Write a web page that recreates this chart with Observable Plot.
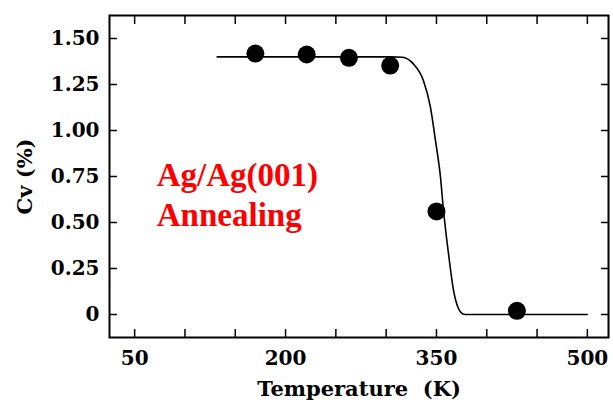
<!DOCTYPE html>
<html><head><meta charset="utf-8">
<script src="https://cdn.jsdelivr.net/npm/d3@7"></script>
<script src="https://cdn.jsdelivr.net/npm/@observablehq/plot@0.6"></script>
<style>body{margin:0;background:#fff}</style>
</head><body><div id="chart"></div>
<script>
// measured points
const dotTemperature = [170, 221, 263, 304, 350, 430];
const dotCv = [1.418, 1.413, 1.395, 1.353, 0.56, 0.02];
// fitted curve
const curveTemperature = [132, 285, 305, 316, 327, 337, 344, 349, 354, 357, 362, 367, 372, 375, 379, 500];
const curveCv = [1.40, 1.40, 1.40, 1.398, 1.362, 1.272, 1.127, 0.946, 0.746, 0.565, 0.329, 0.130, 0.031, 0.008, 0.0, 0.0];
// ticks
const xTickValues = [50, 200, 350, 500];
const xTickLabels = ["50", "200", "350", "500"];
const xMinorTicks = [50, 100, 150, 200, 250, 300, 350, 400, 450, 500];
const yTickValues = [0, 0.25, 0.5, 0.75, 1.0, 1.25, 1.5];
const yTickLabels = ["0", "0.25", "0.50", "0.75", "1.00", "1.25", "1.50"];
const annotationLines = ["Ag/Ag(001)", "Annealing"];

const dots = dotTemperature.map((t, i) => ({t, v: dotCv[i]}));
const curve = curveTemperature.map((t, i) => ({t, v: curveCv[i]}));
const xFmt = new Map(xTickValues.map((v, i) => [v, xTickLabels[i]]));
const yFmt = new Map(yTickValues.map((v, i) => [v, yTickLabels[i]]));

const chart = Plot.plot({
  width: 613, height: 406,
  marginLeft: 109, marginRight: 5, marginTop: 15, marginBottom: 69,
  style: {fontFamily: "DejaVu Serif", fontSize: "20px", fontWeight: "bold", background: "white", color: "black"},
  x: {domain: [25, 521]},
  y: {domain: [-0.125, 1.625]},
  marks: [
    Plot.axisX(xMinorTicks, {anchor: "bottom", tickSize: -8, strokeWidth: 1.5, tickFormat: () => "", label: null}),
    Plot.axisX(xMinorTicks, {anchor: "top", tickSize: -8, strokeWidth: 1.5, tickFormat: () => "", label: null}),
    Plot.axisX(xTickValues, {anchor: "bottom", tickSize: 0, tickPadding: 13, tickFormat: d => xFmt.get(d), label: null}),
    Plot.axisX([], {anchor: "bottom", tickSize: 0, fontSize: 21,
      label: "Temperature  (K)", labelAnchor: "center", labelArrow: "none", labelOffset: 58}),
    Plot.axisY(yTickValues, {anchor: "left", tickSize: -8, strokeWidth: 1.5, tickFormat: () => "", label: null}),
    Plot.axisY(yTickValues, {anchor: "right", tickSize: -8, strokeWidth: 1.5, tickFormat: () => "", label: null}),
    Plot.axisY(yTickValues, {anchor: "left", tickSize: 0, tickPadding: 10, tickFormat: d => yFmt.get(d), label: null}),
    Plot.axisY([], {anchor: "left", tickSize: 0, fontSize: 21,
      label: "Cv (%)", labelAnchor: "center", labelArrow: "none", labelOffset: 92}),
    Plot.frame({stroke: "black", strokeWidth: 2}),
    Plot.line(curve, {x: "t", y: "v", curve: "monotone-x", stroke: "black", strokeWidth: 1.6}),
    Plot.dot(dots, {x: "t", y: "v", r: 9, fill: "black", stroke: "none"}),
    Plot.text([annotationLines[0]], {x: 72, y: 0.757, text: d => d, textAnchor: "start", fill: "#ff0000",
      fontFamily: "Liberation Serif", fontWeight: "bold", fontSize: 33}),
    Plot.text([annotationLines[1]], {x: 72, y: 0.536, text: d => d, textAnchor: "start", fill: "#ff0000",
      fontFamily: "Liberation Serif", fontWeight: "bold", fontSize: 33})
  ]
});
document.getElementById("chart").appendChild(chart);
</script>
</body></html>
